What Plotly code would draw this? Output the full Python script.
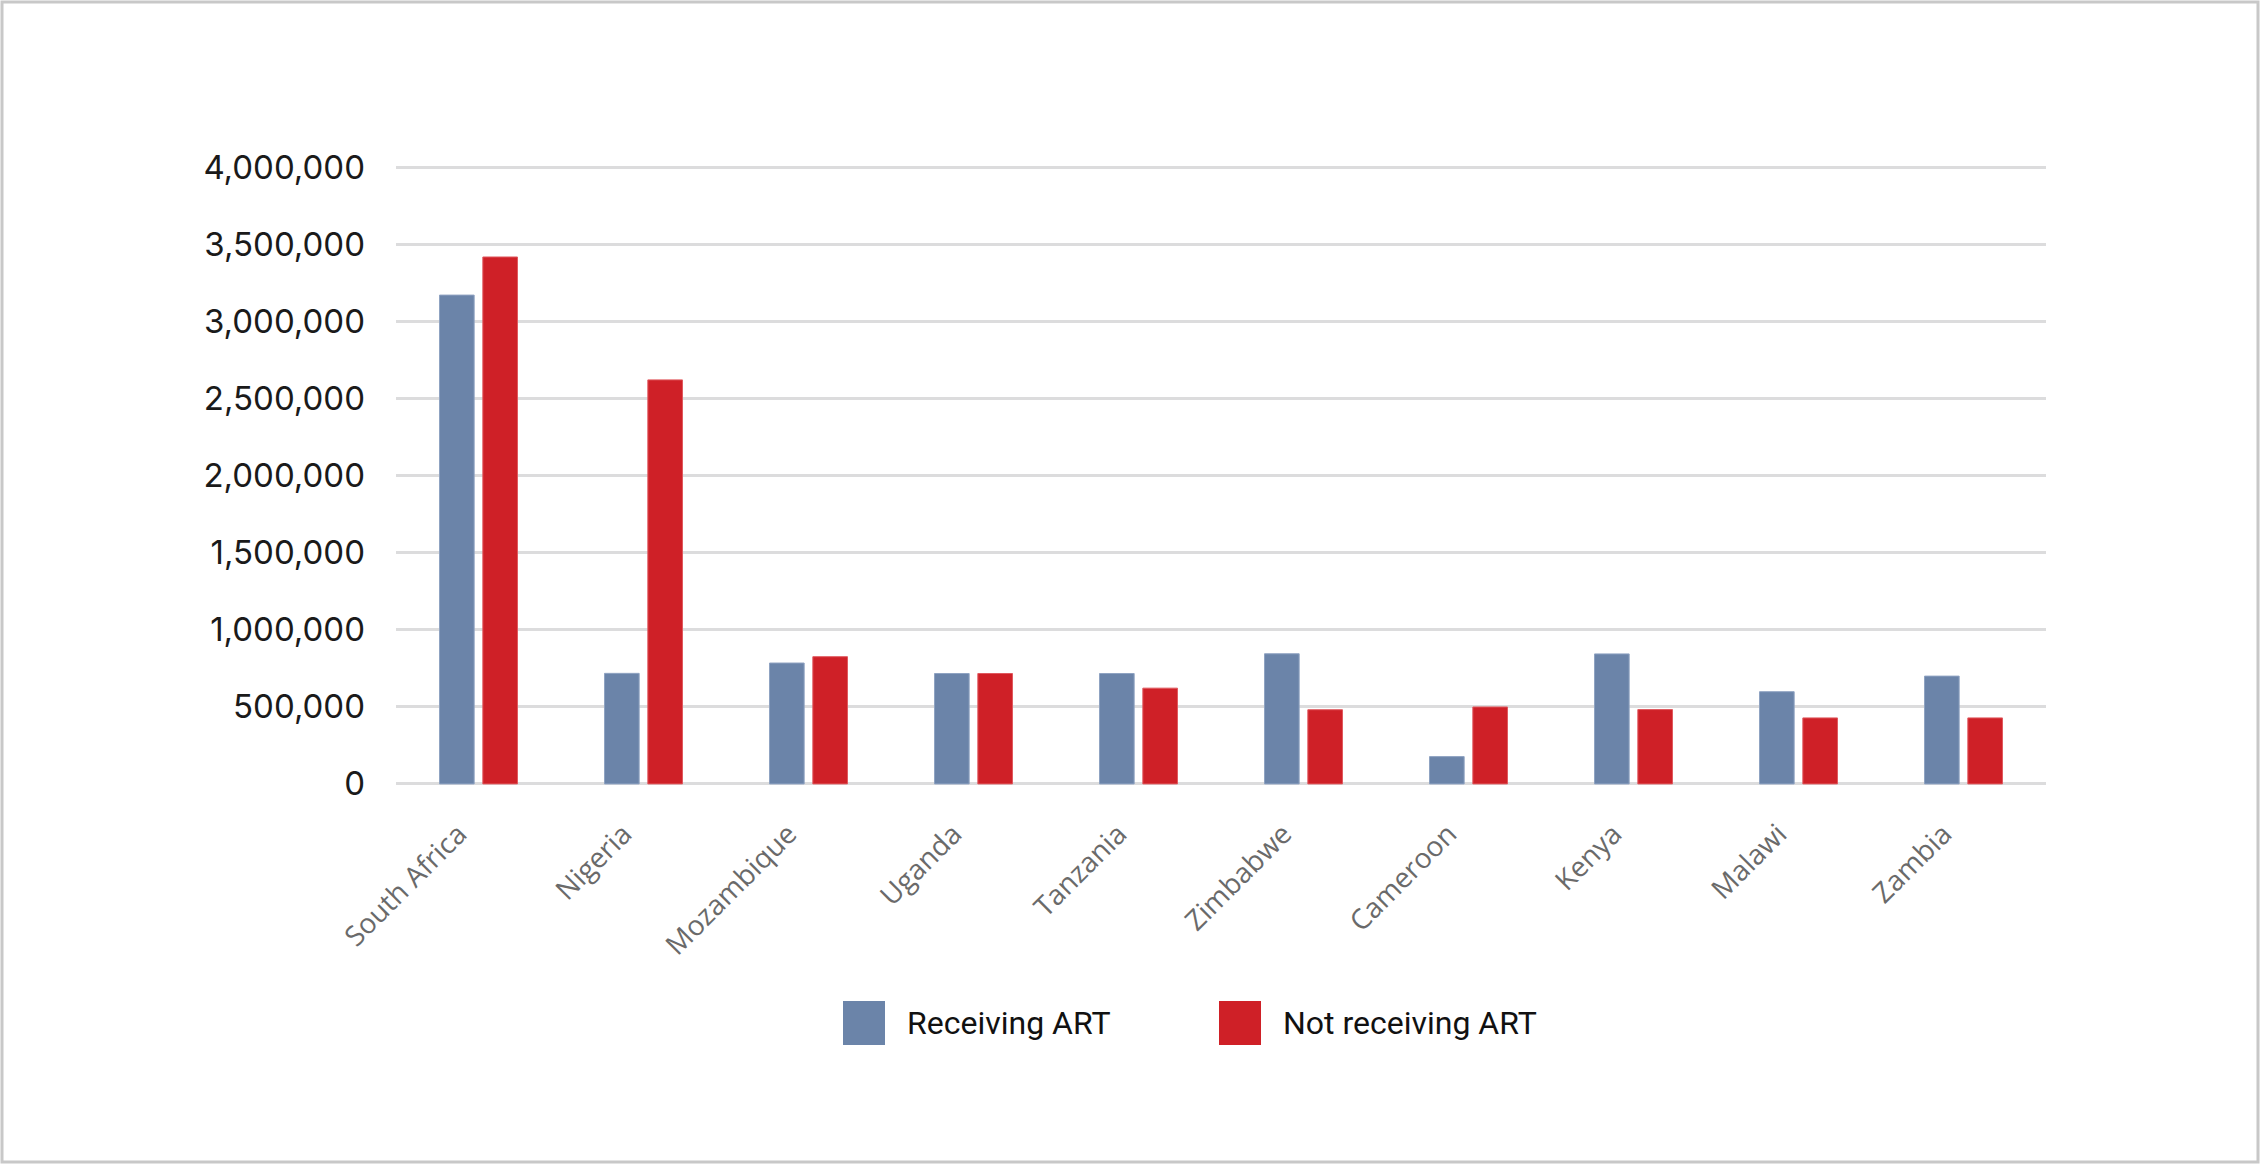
import plotly.graph_objects as go

countries = ["South Africa", "Nigeria", "Mozambique", "Uganda", "Tanzania",
             "Zimbabwe", "Cameroon", "Kenya", "Malawi", "Zambia"]
receiving_art = [3170000, 717000, 784000, 716000, 716000,
                 844000, 177000, 843000, 598000, 699000]
not_receiving_art = [3417000, 2620000, 825000, 716000, 621000,
                     481000, 499000, 482000, 428000, 428000]
series_names = ["Receiving ART", "Not receiving ART"]
y_ticks = [0, 500000, 1000000, 1500000, 2000000, 2500000, 3000000, 3500000, 4000000]

BLUE = "#6B84A9"
RED = "#CF2027"

W, H = 2260, 1164
L, R, T, B = 396, 214, 164, 377
PW, PH = W - L - R, H - T - B

fig = go.Figure()
fig.add_trace(go.Bar(x=countries, y=receiving_art, name=series_names[0],
                     marker=dict(color=BLUE, line=dict(color="#8FA3C2", width=1))))
fig.add_trace(go.Bar(x=countries, y=not_receiving_art, name=series_names[1],
                     marker=dict(color=RED, line=dict(color="#E0585E", width=1))))

fig.update_layout(
    width=W, height=H,
    paper_bgcolor="white", plot_bgcolor="white",
    margin=dict(l=L, r=R, t=T, b=B),
    barmode="group", bargap=0.475, bargroupgap=0.2,
    showlegend=False,
)
fig.update_yaxes(
    range=[-20000, 4020000], tickvals=y_ticks, tickformat=",d",
    showgrid=True, gridcolor="#DCDCDD", gridwidth=3, zeroline=False,
    tickfont=dict(family="Inter", size=33, color="#1A1A1A"),
    ticklabelstandoff=30, showline=False,
)
fig.update_xaxes(
    tickangle=-45, showgrid=False, showline=False, zeroline=False,
    tickfont=dict(family="Open Sans", size=28, color="#6A6A6A"),
    ticklabelstandoff=24, ticklabelshift=-20,
)


# pixel -> paper helpers for the hand-drawn legend and frame
def px(x):
    return (x - L) / PW


def py(y):
    return (H - B - y) / PH


legend_items = [(series_names[0], BLUE, 843), (series_names[1], RED, 1219)]
for name, color, x0 in legend_items:
    fig.add_shape(type="rect", xref="paper", yref="paper",
                  x0=px(x0), x1=px(x0 + 42), y0=py(1045), y1=py(1001),
                  fillcolor=color, line=dict(width=0))
    fig.add_annotation(text=name, xref="paper", yref="paper",
                       x=px(x0 + 62), y=py(1023),
                       xanchor="left", yanchor="middle", showarrow=False,
                       font=dict(family="Roboto", size=32, color="#111111"))

# outer frame
fig.add_shape(type="rect", xref="paper", yref="paper",
              x0=px(2), x1=px(W - 2), y0=py(H - 2), y1=py(2),
              line=dict(color="#C8C8C8", width=3), fillcolor="rgba(0,0,0,0)")

fig.write_html("out.html", config={"displayModeBar": False},
               post_script="document.body.style.margin='0';")
